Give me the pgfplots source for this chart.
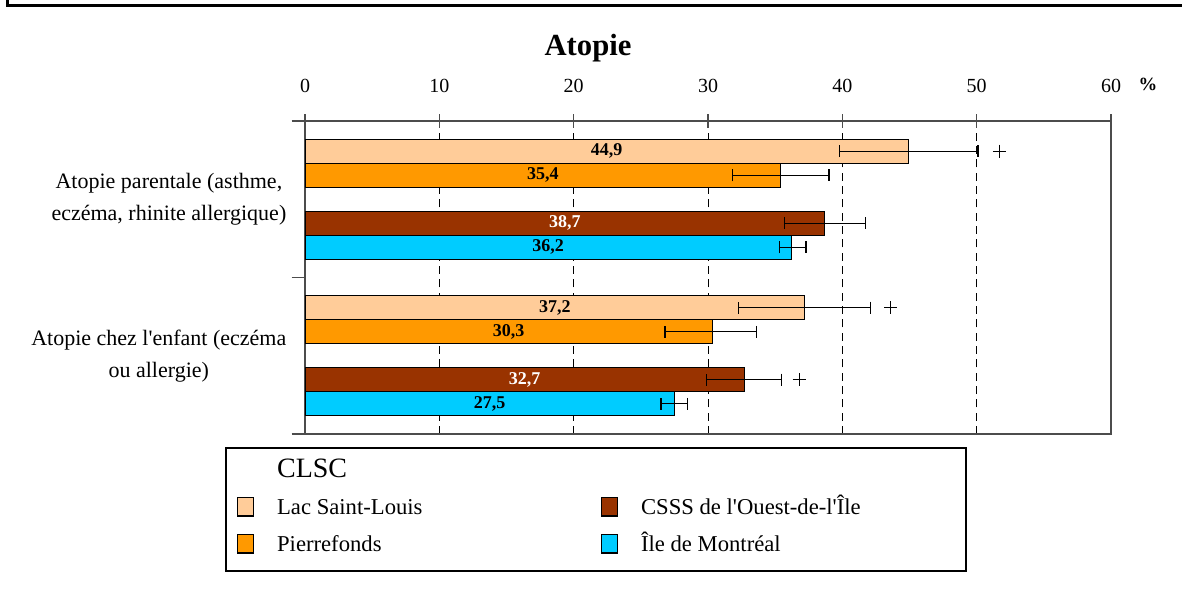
\documentclass[border=0pt]{standalone}
\usepackage{pgfplots}
\pgfplotsset{compat=1.18}
\usepackage{fontspec}
\setmainfont{Liberation Serif}
\definecolor{lac}{HTML}{FFCC99}
\definecolor{pier}{HTML}{FF9900}
\definecolor{csss}{HTML}{993300}
\definecolor{mtl}{HTML}{00CCFF}
\newcommand{\q}{\textquotesingle}
\begin{document}
\begin{tikzpicture}[x=0.75pt,y=0.75pt]
\path[use as bounding box] (0,0) rectangle (1182,607);
\draw[line width=2.25pt] (7,607) -- (7,601) -- (1182,601);
\draw[line width=1.1pt, fill=white] (226,36) rectangle (966,159);
\node[font=\fontsize{23}{26}\selectfont\bfseries] at (588,559) {Atopie};
\begin{axis}[
  at={(228.75pt,129.75pt)}, anchor=south west,
  width=604.5pt, height=234.75pt, scale only axis,
  xmin=0, xmax=60, ymin=0, ymax=2,
  xtick={0,10,...,60},
  xtick pos=right, xticklabel pos=right,
  xtick align=center, major tick length=10pt,
  ytick={0,1,2}, yticklabels={,,}, ytick pos=left, ytick align=outside,
  extra y ticks={0.5,1.5},
  extra y tick labels={{Atopie chez l\q enfant (eczéma\\ou allergie)},{Atopie parentale (asthme,\\eczéma, rhinite allergique)}},
  extra y tick style={major tick length=0pt, grid=none,
     yticklabel style={align=center, font=\fontsize{16.5}{24}\selectfont, xshift=-10.5pt}},
  xmajorgrids,
  major grid style={black, line width=0.75pt, dash pattern=on 6pt off 4pt},
  axis line style={draw=black!70, line width=1pt},
  tick style={black!70, line width=1pt},
  xticklabel style={font=\fontsize{15}{18}\selectfont, yshift=12.5pt},
  /pgf/number format/assume math mode=true,
  xlabel={\%},
  xlabel style={at={(axis description cs:1.046,1.117)}, anchor=center, font=\fontsize{14}{16}\selectfont\bfseries},
  clip=false,
  error bars/error bar style={black, line width=0.9pt},
  error bars/error mark=|,
  error bars/error mark options={black, line width=0.9pt, mark size=4.5pt},
  legend columns=3, transpose legend, legend cell align=left,
  legend style={draw=none, fill=none, inner sep=0pt,
     at={(axis description cs:-0.0844,-0.054)}, anchor=north west,
     font=\fontsize{17}{20}\selectfont, column sep=13pt,
     /tikz/every even column/.append style={column sep=130pt},
     nodes={inner ysep=0pt, inner xsep=4pt, text height=19.5pt, text depth=8.25pt}},
]
% bars
\addplot[forget plot, xbar, bar width=18pt, bar shift=0pt, fill=lac, draw=black, line width=0.6pt,
  error bars/.cd, x dir=both, x explicit]
  coordinates {(44.9,1.807) += (5.2,0) -= (5.1,0) (37.2,0.807) += (4.9,0) -= (4.9,0)};
\addplot[forget plot, xbar, bar width=18pt, bar shift=0pt, fill=pier, draw=black, line width=0.6pt,
  error bars/.cd, x dir=both, x explicit]
  coordinates {(35.4,1.653) += (3.6,0) -= (3.6,0) (30.3,0.653) += (3.3,0) -= (3.5,0)};
\addplot[forget plot, xbar, bar width=18pt, bar shift=0pt, fill=csss, draw=black, line width=0.6pt,
  error bars/.cd, x dir=both, x explicit]
  coordinates {(38.7,1.347) += (3.0,0) -= (3.0,0) (32.7,0.347) += (2.8,0) -= (2.8,0)};
\addplot[forget plot, xbar, bar width=18pt, bar shift=0pt, fill=mtl, draw=black, line width=0.6pt,
  error bars/.cd, x dir=both, x explicit]
  coordinates {(36.2,1.193) += (1.1,0) -= (0.9,0) (27.5,0.193) += (1.0,0) -= (1.0,0)};
% value labels
\addplot[forget plot, draw=none, mark=none, nodes near coords, point meta=explicit symbolic,
  nodes near coords style={anchor=center, font=\fontsize{13.5}{15}\selectfont\bfseries, text=black}]
  table[meta=lab] {
x y lab
22.45 1.807 {44,9}
17.7 1.653 {35,4}
18.1 1.193 {36,2}
18.6 0.807 {37,2}
15.15 0.653 {30,3}
13.75 0.193 {27,5}
};
\addplot[forget plot, draw=none, mark=none, nodes near coords, point meta=explicit symbolic,
  nodes near coords style={anchor=center, font=\fontsize{13.5}{15}\selectfont\bfseries, text=white}]
  table[meta=lab] {
x y lab
19.35 1.347 {38,7}
16.35 0.347 {32,7}
};
% significance marks
\addplot[forget plot, only marks, mark=+, mark size=5pt, mark options={black, line width=0.6pt}]
  coordinates {(51.7,1.807) (43.6,0.807) (36.8,0.347)};
% legend
\addlegendimage{empty legend}
\addlegendentry{\fontsize{21}{24}\selectfont CLSC}
\addlegendimage{legend image code/.code={\draw[fill=lac,draw=black,line width=0.9pt] (0pt,-7pt) rectangle (12pt,7pt);}}
\addlegendentry{Lac Saint-Louis}
\addlegendimage{legend image code/.code={\draw[fill=pier,draw=black,line width=0.9pt] (0pt,-7pt) rectangle (12pt,7pt);}}
\addlegendentry{Pierrefonds}
\addlegendimage{empty legend}
\addlegendentry{}
\addlegendimage{legend image code/.code={\draw[fill=csss,draw=black,line width=0.9pt] (0pt,-7pt) rectangle (12pt,7pt);}}
\addlegendentry{CSSS de l\q Ouest-de-l\q Île}
\addlegendimage{legend image code/.code={\draw[fill=mtl,draw=black,line width=0.9pt] (0pt,-7pt) rectangle (12pt,7pt);}}
\addlegendentry{Île de Montréal}
\end{axis}
\end{tikzpicture}
\end{document}
